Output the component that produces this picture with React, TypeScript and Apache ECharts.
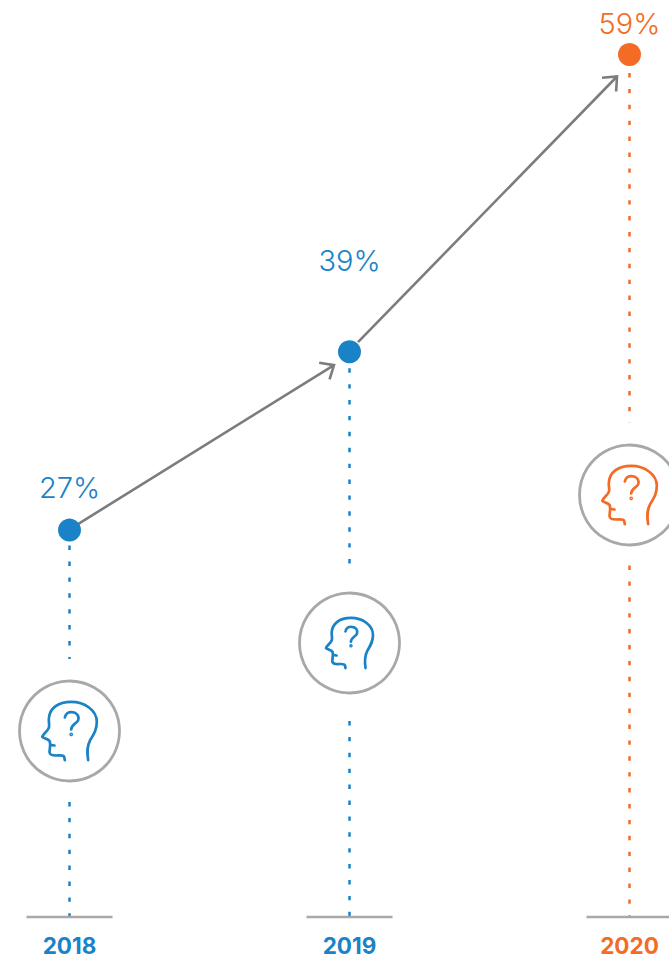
import React, { useEffect, useRef } from "react";
import * as echarts from "echarts";

// Yearly share values and their labels
const years = ["2018", "2019", "2020"];
const shares = [27, 39, 59];

// Colour per year
const BLUE = "#1a82c6";
const ORANGE = "#f46b25";
const yearColors = [BLUE, BLUE, ORANGE];
const GREY = "#a8a8a8";
const ARROW_GREY = "#7c7c7c";

// Layout of the per-year decorations, in pixels
const WIDTH = 669;
const HEIGHT = 957;
const BASE_Y = 917;
const iconCenterY = [731, 643, 495];
const iconScale = [1, 0.86, 1];
const dropStart = [15.5, 16.5, 18.5];
const iconGapTop = [72, 77, 72];
const iconGapBottom = [71, 78, 70.5];
const labelLift = [43, 91, 31];
const arrowStartOffset = [[8.5, -6], [8.5, -9.6]];
const arrowTipOffset = [[-15.5, 13.4], [-12.5, 22]];

// Head outline with a question mark, traced on a 3x grid
const HEAD_PATH =
  "M266 360 C262 335 262 320 272 300 C284 280 292 268 292 245 C292 210 255 185 215 185 " +
  "C175 185 150 205 148 235 C147 250 152 258 147 265 C142 275 130 282 128 290 " +
  "C130 295 148 296 151 304 L152 314 L165 316 M152 314 L150 335 C150 345 158 346 170 346 " +
  "C180 346 192 344 194 350 L196 360 " +
  "M196 232 C198 220 208 215 218 216 C232 217 240 228 236 240 C232 250 216 252 215 268";
const HEAD_W = 54.7;
const HEAD_H = 58.3;

function renderYear(params: any, api: any) {
  const i = params.dataIndex;
  const [x, pointY] = api.coord([api.value(0), api.value(1)]);
  const color = yearColors[i];
  const cy = iconCenterY[i];
  const s = iconScale[i];
  const dots = { stroke: color, lineWidth: 2.5, lineDash: [4.4, 11.5] };
  const w = HEAD_W * s;
  const h = HEAD_H * s;
  return {
    type: "group",
    children: [
      {
        type: "line",
        shape: { x1: x, y1: pointY + dropStart[i], x2: x, y2: cy - iconGapTop[i] },
        style: dots,
      },
      {
        type: "line",
        shape: { x1: x, y1: cy + iconGapBottom[i], x2: x, y2: BASE_Y },
        style: dots,
      },
      {
        type: "line",
        shape: { x1: x - 43, y1: BASE_Y, x2: x + 43, y2: BASE_Y },
        style: { stroke: GREY, lineWidth: 2.6 },
      },
      {
        type: "circle",
        shape: { cx: x, cy, r: 50 },
        style: { fill: "#fff", stroke: GREY, lineWidth: 2.8 },
      },
      {
        type: "path",
        shape: { pathData: HEAD_PATH, x: x - w / 2, y: cy - h / 2, width: w, height: h },
        style: { fill: "none", stroke: color, lineWidth: 2.7, lineCap: "round", lineJoin: "round" },
      },
      {
        type: "circle",
        shape: { cx: x + 1.7 * s, cy: cy + 3.3 * s, r: 1.2 * s },
        style: { fill: "none", stroke: color, lineWidth: 1.4 },
      },
    ],
  };
}

function renderArrow(params: any, api: any) {
  const i = params.dataIndex;
  if (i >= shares.length - 1) return null;
  const from = api.coord([i, shares[i]]);
  const to = api.coord([i + 1, shares[i + 1]]);
  const start = [from[0] + arrowStartOffset[i][0], from[1] + arrowStartOffset[i][1]];
  const tip = [to[0] + arrowTipOffset[i][0], to[1] + arrowTipOffset[i][1]];
  const angle = Math.atan2(tip[1] - start[1], tip[0] - start[0]);
  const barb = (turn: number) => [
    tip[0] - Math.cos(angle + turn) * 15,
    tip[1] - Math.sin(angle + turn) * 15,
  ];
  const wing = (41 * Math.PI) / 180;
  const style = { stroke: ARROW_GREY, lineWidth: 2.6, fill: "none" };
  return {
    type: "group",
    children: [
      { type: "polyline", shape: { points: [start, tip] }, style },
      { type: "polyline", shape: { points: [barb(wing), tip, barb(-wing)] }, style },
    ],
  };
}

export default function App() {
  const ref = useRef<HTMLDivElement>(null);

  useEffect(() => {
    const chart = echarts.init(ref.current!, undefined, { renderer: "svg" });
    const pairs = shares.map((v, i) => [i, v]);
    chart.setOption({
      animation: false,
      backgroundColor: "#fff",
      grid: { left: 69.5, right: 39.5, top: 54.5, bottom: HEIGHT - BASE_Y - 0.5 },
      xAxis: {
        type: "category",
        data: years,
        boundaryGap: false,
        axisLine: { show: false },
        axisTick: { show: false },
        splitLine: { show: false },
        axisLabel: {
          interval: 0,
          margin: 20,
          fontFamily: "Inter",
          fontWeight: 700,
          fontSize: 22.5,
          lineHeight: 18,
          color: (_: string, i: number) => yearColors[i],
        },
      },
      yAxis: { type: "value", min: 1, max: 59, show: false, splitLine: { show: false } },
      series: [
        {
          type: "custom",
          renderItem: renderYear,
          data: pairs,
          encode: { x: 0, y: 1 },
          clip: false,
          z: 1,
        },
        {
          type: "custom",
          renderItem: renderArrow,
          data: pairs,
          encode: { x: 0, y: 1 },
          clip: false,
          z: 2,
        },
        {
          type: "scatter",
          symbol: "circle",
          symbolSize: 23,
          z: 3,
          data: shares.map((v, i) => ({
            value: [i, v],
            itemStyle: { color: yearColors[i], opacity: 1 },
            label: {
              show: true,
              position: "inside",
              offset: [0, -labelLift[i]],
              formatter: `${v}%`,
              color: yearColors[i],
              fontFamily: "Inter",
              fontWeight: 300,
              fontSize: 29,
            },
          })),
        },
      ],
    });
    return () => chart.dispose();
  }, []);

  return (
    <div
      ref={ref}
      style={{ position: "absolute", left: 0, top: 0, width: WIDTH, height: HEIGHT }}
    />
  );
}
